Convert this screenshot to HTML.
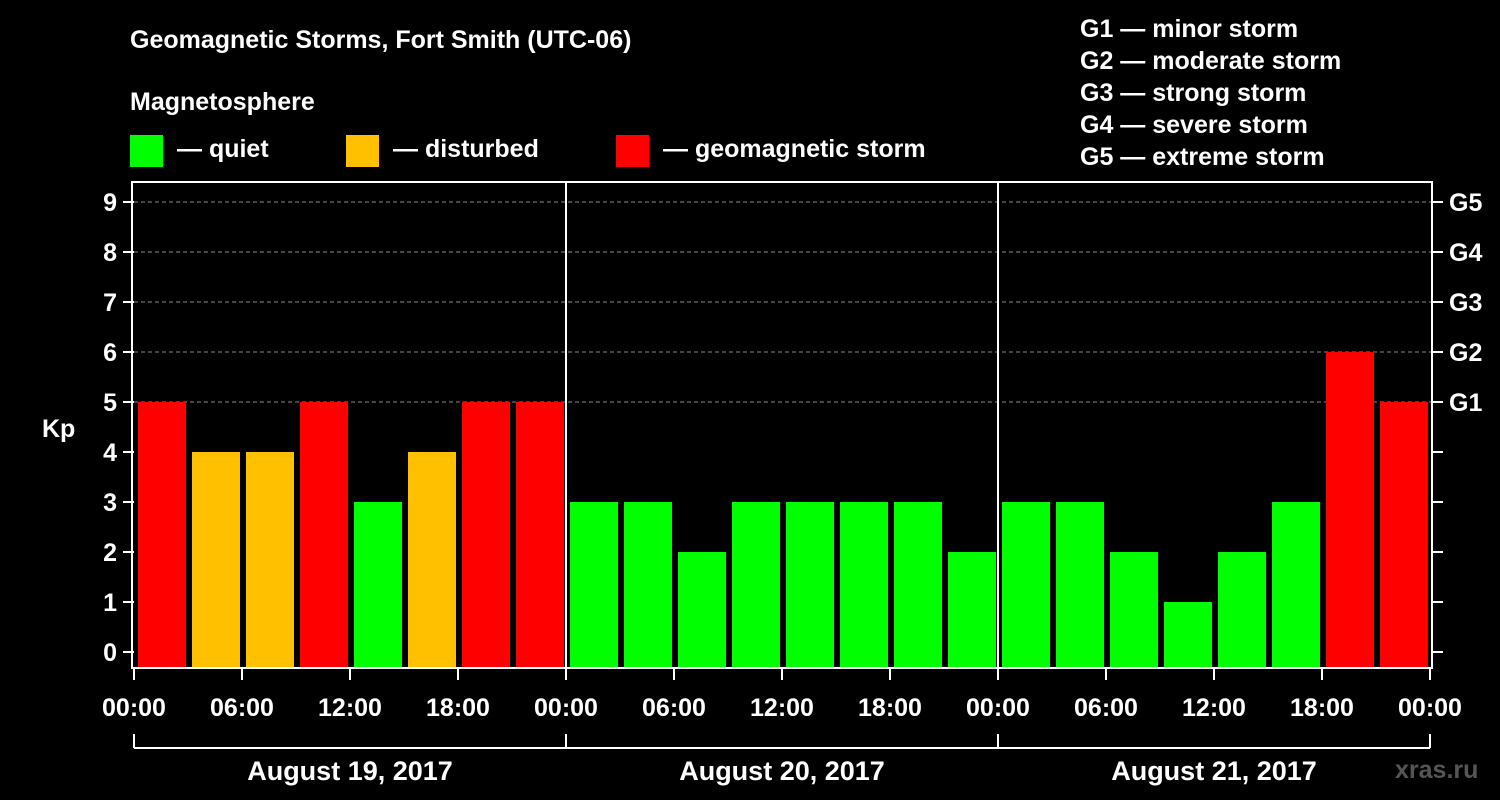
<!DOCTYPE html>
<html><head><meta charset="utf-8"><style>
body{margin:0;background:#000;}
svg{display:block;font-family:"Liberation Sans",sans-serif;font-weight:bold;}
</style></head><body>
<svg id="c" width="1500" height="800" viewBox="0 0 1500 800">
<rect width="1500" height="800" fill="#000"/>
<text x="130" y="48" fill="#fff" font-size="25">Geomagnetic Storms, Fort Smith (UTC-06)</text>
<text x="130" y="110" fill="#fff" font-size="25">Magnetosphere</text>
<g><rect x="130" y="135" width="33" height="32" fill="#00ff00"/><text x="177" y="157" fill="#fff" font-size="25">— quiet</text></g>
<g><rect x="346" y="135" width="33" height="32" fill="#ffc000"/><text x="393" y="157" fill="#fff" font-size="25">— disturbed</text></g>
<g><rect x="616" y="135" width="33" height="32" fill="#ff0000"/><text x="663" y="157" fill="#fff" font-size="25">— geomagnetic storm</text></g>
<g fill="#fff" font-size="25">
<text x="1080" y="37">G1 — minor storm</text><text x="1080" y="69">G2 — moderate storm</text><text x="1080" y="101">G3 — strong storm</text><text x="1080" y="133">G4 — severe storm</text><text x="1080" y="165">G5 — extreme storm</text></g>
<text x="42" y="437" fill="#fff" font-size="25">Kp</text>
<text x="1395" y="778" fill="#555" font-size="25">xras.ru</text>
<g id="plot"></g>
</svg>
<script>
const kpValues=[5,4,4,5,3,4,5,5, 3,3,2,3,3,3,3,2, 3,3,2,1,2,3,6,5];
const yTicks=[0,1,2,3,4,5,6,7,8,9];
const gLabels=["G1","G2","G3","G4","G5"];
const xTickLabels=["00:00","06:00","12:00","18:00","00:00","06:00","12:00","18:00","00:00","06:00","12:00","18:00","00:00"];
const dayLabels=["August 19, 2017","August 20, 2017","August 21, 2017"];
const L=134,R=1432,T=182,B=668;
const slot=(1430-134)/24;
const y=v=>652-50*v;
const x=i=>L+i*slot;
const ns="http://www.w3.org/2000/svg";
const g=document.getElementById('plot');
function mk(t,a,p){const e=document.createElementNS(ns,t);for(const k in a)e.setAttribute(k,a[k]);(p||g).appendChild(e);return e;}
yTicks.forEach(v=>{
 if(v>=5){const l=mk('line',{x1:L,x2:R,y1:y(v),y2:y(v),stroke:'#888','stroke-dasharray':'4,3'});
 
 }
 const t1=mk('line',{x1:L-11,x2:L,y1:y(v),y2:y(v),stroke:'#fff','stroke-width':2});
 
 
 const t2=mk('line',{x1:R,x2:R+11,y1:y(v),y2:y(v),stroke:'#fff','stroke-width':2});
 
 
 const tx=mk('text',{x:L-17,y:y(v)+9,fill:'#fff','font-size':25,'text-anchor':'end'});tx.textContent=v;
 
 
});
gLabels.forEach((s,i)=>{const t=mk('text',{x:1449,y:y(5+i)+9,fill:'#fff','font-size':25});t.textContent=s;
 
 });
kpValues.forEach((v,i)=>{
 const c=v>=5?'#ff0000':v==4?'#ffc000':'#00ff00';
 const r=mk('rect',{x:x(i)+4,y:y(v),width:slot-6,height:B-y(v),fill:c});
 
 
});
[1,2].forEach(d=>{const l=mk('line',{x1:x(d*8)+0,x2:x(d*8),y1:T,y2:B,stroke:'#fff','stroke-width':2});
 
 });
const fr=mk('rect',{x:L-2,y:T,width:R-L+2,height:B-T,fill:'none',stroke:'#fff','stroke-width':2});


xTickLabels.forEach((s,i)=>{const xx=x(i*2);
 const tk=mk('line',{x1:xx,x2:xx,y1:B,y2:B+12,stroke:'#fff','stroke-width':2});
 
 
 const t=mk('text',{x:xx,y:716,fill:'#fff','font-size':25,'text-anchor':'middle'});t.textContent=s;
 
 });
const br=mk('line',{x1:L,x2:1430,y1:748,y2:748,stroke:'#fff','stroke-width':2});


[0,1,2,3].forEach(d=>{const l=mk('line',{x1:x(d*8),x2:x(d*8),y1:734,y2:748,stroke:'#fff','stroke-width':2});
 
 });
dayLabels.forEach((s,d)=>{const t=mk('text',{x:x(d*8+4),y:780,fill:'#fff','font-size':27,'text-anchor':'middle'});t.textContent=s;
 
 });
</script>
</body></html>
